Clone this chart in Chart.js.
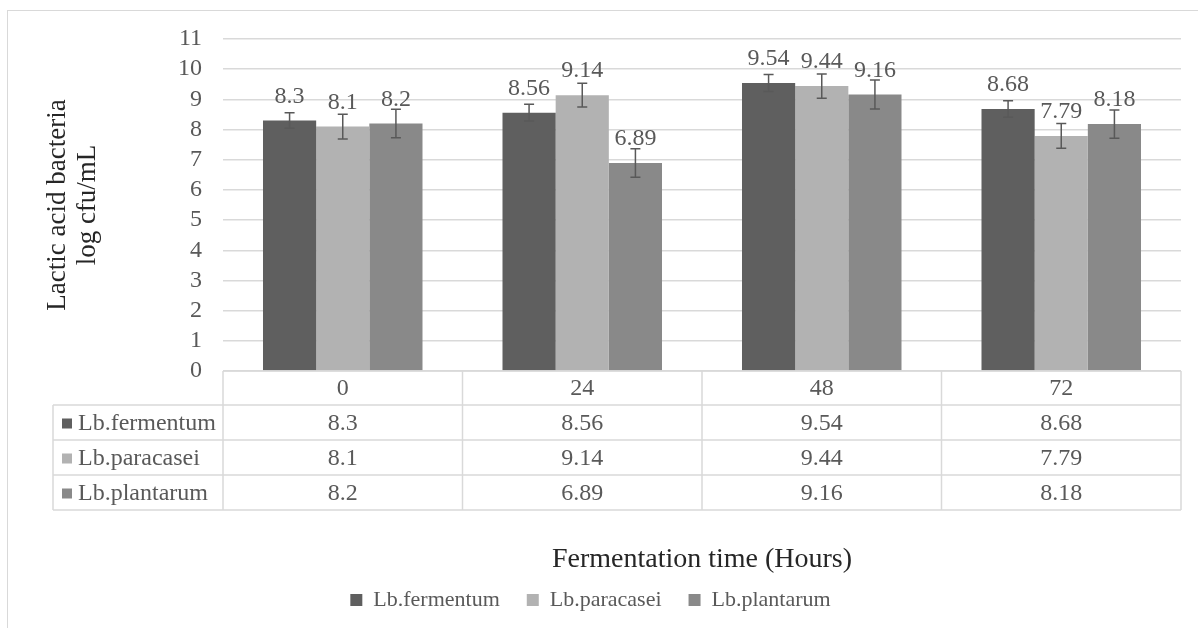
<!DOCTYPE html>
<html><head><meta charset="utf-8">
<script src="https://cdn.jsdelivr.net/npm/chart.js@4.4.1/dist/chart.umd.min.js"></script>
<style>
html,body{margin:0;padding:0;background:#fff;overflow:hidden;}
#wrap{position:relative;width:1198px;height:628px;overflow:hidden;}
#frame{position:absolute;left:7px;top:10px;width:1300px;height:700px;border-left:1.5px solid #d9d9d9;border-top:1.5px solid #d9d9d9;}
canvas{position:absolute;left:0;top:0;}
</style></head><body>
<div id="wrap"><div id="frame"></div><canvas id="c" width="1198" height="628"></canvas></div>
<script>
const categories = ['0', '24', '48', '72'];
const seriesNames = ['Lb.fermentum', 'Lb.paracasei', 'Lb.plantarum'];
const fermentum = [8.3, 8.56, 9.54, 8.68];
const paracasei = [8.1, 9.14, 9.44, 7.79];
const plantarum = [8.2, 6.89, 9.16, 8.18];
const fermentumErr = [0.26, 0.28, 0.28, 0.27];
const paracaseiErr = [0.41, 0.39, 0.40, 0.41];
const plantarumErr = [0.47, 0.47, 0.48, 0.47];
const yMin = 0, yMax = 11, yStep = 1;
const yTitle = ['Lactic acid bacteria', 'log cfu/mL'];
const xTitle = 'Fermentation time (Hours)';
const colors = ['#5f5f5f', '#b2b2b2', '#898989'];

const FONT = '"Liberation Serif", "Times New Roman", serif';
const TXT = '#595959';
const TITLE_COLOR = '#262626';
Chart.defaults.font.family = FONT;

const barExtras = {
  id: 'barExtras',
  afterDatasetsDraw(chart) {
    const ctx = chart.ctx, y = chart.scales.y;
    ctx.save();
    chart.data.datasets.forEach((d, di) => {
      const meta = chart.getDatasetMeta(di);
      meta.data.forEach((bar, i) => {
        const v = d.data[i], e = d.errors[i];
        const yt = y.getPixelForValue(v + e), yb = y.getPixelForValue(v - e);
        ctx.strokeStyle = '#595959';
        ctx.lineWidth = 1.5;
        ctx.beginPath();
        ctx.moveTo(bar.x, yt); ctx.lineTo(bar.x, yb);
        ctx.moveTo(bar.x - 5, yt); ctx.lineTo(bar.x + 5, yt);
        ctx.moveTo(bar.x - 5, yb); ctx.lineTo(bar.x + 5, yb);
        ctx.stroke();
        ctx.fillStyle = TXT;
        ctx.font = '24px ' + FONT;
        ctx.textAlign = 'center';
        ctx.textBaseline = 'middle';
        ctx.fillText(String(v), bar.x, bar.y - 24);
      });
    });
    ctx.restore();
  }
};

const dataTable = {
  id: 'dataTable',
  afterDraw(chart) {
    const ctx = chart.ctx, ca = chart.chartArea, x = chart.scales.x;
    const n = categories.length;
    const cw = (ca.right - ca.left) / n;
    const top = ca.bottom, headerH = 34, rowH = 35, labelLeft = 53;
    const rowsTop = top + headerH;
    const ds = chart.data.datasets;
    const bottom = rowsTop + rowH * ds.length;
    ctx.save();
    ctx.strokeStyle = '#d9d9d9';
    ctx.lineWidth = 1.5;
    ctx.beginPath();
    ctx.moveTo(ca.left, top); ctx.lineTo(ca.right, top);
    for (let r = 0; r <= ds.length; r++) {
      const yy = rowsTop + r * rowH;
      ctx.moveTo(labelLeft, yy); ctx.lineTo(ca.right, yy);
    }
    for (let i = 0; i <= n; i++) {
      const xx = ca.left + i * cw;
      ctx.moveTo(xx, top); ctx.lineTo(xx, bottom);
    }
    ctx.moveTo(labelLeft, rowsTop); ctx.lineTo(labelLeft, bottom);
    ctx.stroke();
    ctx.font = '24px ' + FONT;
    ctx.textBaseline = 'middle';
    ctx.fillStyle = TXT;
    ctx.textAlign = 'center';
    categories.forEach((c, i) => ctx.fillText(c, x.getPixelForValue(i), top + headerH / 2 + 1));
    ds.forEach((d, r) => {
      const cy = rowsTop + r * rowH + rowH / 2 + 1;
      ctx.fillStyle = d.backgroundColor;
      ctx.fillRect(62, cy - 5, 10, 10);
      ctx.fillStyle = TXT;
      ctx.textAlign = 'left';
      ctx.fillText(d.label, 78, cy);
      ctx.textAlign = 'center';
      d.data.forEach((v, i) => ctx.fillText(String(v), x.getPixelForValue(i), cy));
    });
    ctx.restore();
  }
};

new Chart(document.getElementById('c'), {
  type: 'bar',
  data: {
    labels: categories,
    datasets: [
      { label: seriesNames[0], data: fermentum, errors: fermentumErr, backgroundColor: colors[0] },
      { label: seriesNames[1], data: paracasei, errors: paracaseiErr, backgroundColor: colors[1] },
      { label: seriesNames[2], data: plantarum, errors: plantarumErr, backgroundColor: colors[2] }
    ]
  },
  options: {
    responsive: false,
    animation: false,
    layout: { padding: { left: 0, top: 39, right: 17, bottom: 7 } },
    datasets: { bar: { categoryPercentage: 0.666, barPercentage: 1.0 } },
    plugins: {
      tooltip: { enabled: false },
      legend: {
        position: 'bottom',
        labels: { boxWidth: 12, boxHeight: 12, padding: 27, color: TXT, font: { size: 22, family: FONT } }
      }
    },
    scales: {
      x: {
        grid: { display: false },
        border: { display: false },
        ticks: { display: false },
        title: { display: true, text: xTitle, color: TITLE_COLOR, font: { size: 28, family: FONT }, padding: { top: 0, bottom: -14 } },
        afterFit(s) { s.height = 191; }
      },
      y: {
        min: yMin, max: yMax,
        grid: { color: '#d9d9d9', lineWidth: 1.5, drawTicks: false },
        border: { display: false },
        ticks: { stepSize: yStep, autoSkip: false, padding: 21, color: TXT, font: { size: 24, family: FONT } },
        title: { display: true, text: yTitle, color: TITLE_COLOR, font: { size: 27, family: FONT, lineHeight: 30 / 27 }, padding: { top: 43, bottom: 0 } },
        afterFit(s) { s.width = 223; }
      }
    }
  },
  plugins: [barExtras, dataTable]
});
</script>
</body></html>
